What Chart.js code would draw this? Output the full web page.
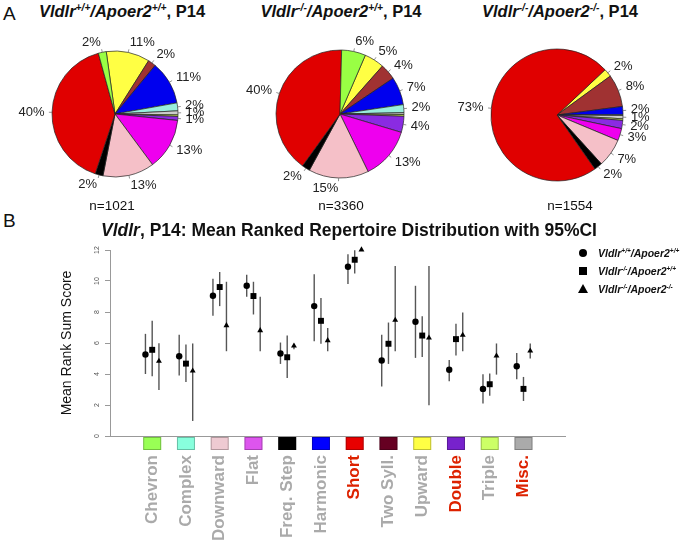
<!DOCTYPE html>
<html>
<head>
<meta charset="utf-8">
<script src="https://cdn.jsdelivr.net/npm/chart.js@4.4.0/dist/chart.umd.min.js"></script>
<style>
  html, body { margin: 0; padding: 0; background: #fff; }
  body { width: 685px; height: 542px; position: relative; overflow: hidden;
         font-family: "Liberation Sans", Arial, sans-serif; color: #111; }
  canvas { position: absolute; }
  .t { position: absolute; white-space: nowrap; line-height: 1; }
  .c { transform: translateX(-50%); }
  .pt { font-size: 16.5px; font-weight: bold; }
  .leg { font-size: 10.5px; font-weight: bold; font-style: italic; left: 598px; }
  sup { font-size: 0.62em; vertical-align: 0; position: relative; top: -0.6em; }
  .mk { position: absolute; background: #000; }
</style>
</head>
<body>
<div class="t" style="left:3px;top:4px;font-size:19px">A</div>
<div class="t" style="left:3px;top:211px;font-size:19px">B</div>

<div class="t c pt" style="left:122px;top:3px"><i>Vldlr<sup>+/+</sup>/Apoer2<sup>+/+</sup></i>, P14</div>
<div class="t c pt" style="left:341px;top:3px"><i>Vldlr<sup>-/-</sup>/Apoer2<sup>+/+</sup></i>, P14</div>
<div class="t c pt" style="left:560px;top:3px"><i>Vldlr<sup>-/-</sup>/Apoer2<sup>-/-</sup></i>, P14</div>

<canvas id="pie1" width="230" height="180" style="left:0px;top:24px"></canvas>
<canvas id="pie2" width="220" height="180" style="left:230px;top:24px"></canvas>
<canvas id="pie3" width="210" height="180" style="left:452px;top:25px"></canvas>

<div class="t c" style="left:112px;top:198.5px;font-size:13.5px">n=1021</div>
<div class="t c" style="left:341px;top:198.5px;font-size:13.5px">n=3360</div>
<div class="t c" style="left:570px;top:198.5px;font-size:13.5px">n=1554</div>

<div class="t c" style="left:349px;top:222px;font-size:17.5px;font-weight:bold"><i>Vldlr</i>, P14: Mean Ranked Repertoire Distribution with 95%CI</div>

<canvas id="ranks" width="570" height="330" style="left:0px;top:240px"></canvas>

<div class="mk" style="left:579px;top:249px;width:8px;height:8px;border-radius:50%"></div>
<div class="t leg" style="top:248px"><i>Vldlr<sup>+/+</sup>/Apoer2<sup>+/+</sup></i></div>
<div class="mk" style="left:579px;top:267px;width:8px;height:8px"></div>
<div class="t leg" style="top:266px"><i>Vldlr<sup>-/-</sup>/Apoer2<sup>+/+</sup></i></div>
<div class="mk" style="left:578px;top:284px;width:0;height:0;background:none;border-left:5px solid transparent;border-right:5px solid transparent;border-bottom:9px solid #000"></div>
<div class="t leg" style="top:284px"><i>Vldlr<sup>-/-</sup>/Apoer2<sup>-/-</sup></i></div>

<script>
// categories (same order as the x axis of panel B)
const cats = ['Chevron', 'Complex', 'Downward', 'Flat', 'Freq. Step', 'Harmonic',
              'Short', 'Two Syll.', 'Upward', 'Double', 'Triple', 'Misc.'];
const redCats = ['Short', 'Double', 'Misc.'];

// pie shares in percent, by category
const pieWT  = [2, 2, 13, 13, 2, 11, 40, 2, 11, 1, 0.4, 1];
const pieVKO = [6, 2, 15, 13, 2, 7, 40, 4, 5, 4, 0.45, 0.45];
const pieDKO = [0, 0.2, 7, 3, 2, 2, 73, 8, 2, 2, 0.4, 0.8];
// order the slices run clockwise
const pieOrder = [8, 7, 5, 1, 11, 10, 9, 3, 2, 4, 6, 0];

// mean rank sum score with 95% CI, by category
const wtMean = [5.26, 5.15, 9.05, 9.69, 5.32, 8.38, 10.92, 4.87, 7.37, 4.27, 3.04, 4.50];
const wtLo   = [4.00, 3.90, 7.76, 8.98, 4.65, 6.12, 9.80, 3.19, 5.04, 3.53, 2.09, 3.66];
const wtHi   = [6.59, 6.53, 10.15, 10.40, 6.03, 10.43, 11.72, 6.53, 9.69, 4.91, 3.99, 5.36];

const vkoMean = [5.56, 4.67, 9.61, 9.03, 5.08, 7.43, 11.37, 5.95, 6.48, 6.25, 3.34, 3.04];
const vkoLo   = [3.86, 3.49, 8.38, 7.84, 3.75, 5.95, 10.49, 4.65, 5.10, 5.19, 2.59, 2.26];
const vkoHi   = [7.43, 5.90, 10.58, 9.95, 6.48, 8.90, 11.98, 7.32, 7.73, 7.24, 4.03, 3.81];

const dkoMean = [4.83, 4.20, 7.13, 6.81, 5.82, 6.16, 12.02, 7.48, 6.33, 6.51, 5.17, 5.49];
const dkoLo   = [2.97, 0.97, 5.47, 5.47, 5.60, 5.47, 11.95, 5.47, 1.98, 5.47, 3.96, 5.00];
const dkoHi   = [5.99, 5.97, 9.95, 8.98, 5.95, 6.96, 12.05, 10.97, 10.97, 7.97, 5.97, 5.97];

const yTicks = [0, 2, 4, 6, 8, 10, 12];

const sliceColors = ['#99ff44', '#99eedd', '#f5c0c8', '#ee00ee', '#000000', '#0000ee',
                     '#e00000', '#a03232', '#ffff44', '#8a2be2', '#ccee55', '#cccccc'];
const boxColors = ['#99ff55', '#88ffdd', '#eecad2', '#dd55ee', '#000000', '#0000ff',
                   '#e80000', '#660022', '#ffff44', '#7722cc', '#ccff66', '#aaaaaa'];

Chart.defaults.font.family = '"Liberation Sans", Arial, sans-serif';
Chart.defaults.animation = false;

// R style pie labels: short tick just outside the rim, text a bit further out
const pieLabels = {
  id: 'pieLabels',
  afterDatasetsDraw(chart) {
    const ctx = chart.ctx;
    const values = chart.data.datasets[0].data;
    ctx.save();
    ctx.font = '13px "Liberation Sans", Arial, sans-serif';
    ctx.textBaseline = 'middle';
    chart.getDatasetMeta(0).data.forEach((arc, i) => {
      const pct = Math.round(values[i]);
      if (pct < 1) return;
      const p = arc.getProps(['x', 'y', 'startAngle', 'endAngle', 'outerRadius'], true);
      const mid = (p.startAngle + p.endAngle) / 2;
      const cx = Math.cos(mid), cy = Math.sin(mid), r = p.outerRadius;
      ctx.strokeStyle = '#777';
      ctx.lineWidth = 0.8;
      ctx.beginPath();
      ctx.moveTo(p.x + cx * r, p.y + cy * r);
      ctx.lineTo(p.x + cx * r * 1.05, p.y + cy * r * 1.05);
      ctx.stroke();
      ctx.fillStyle = '#222';
      ctx.textAlign = cx < 0 ? 'right' : 'left';
      ctx.fillText(pct + '%', p.x + cx * r * 1.12, p.y + cy * r * 1.16);
    });
    ctx.restore();
  }
};

function makePie(id, values, rotation, radius) {
  new Chart(document.getElementById(id), {
    type: 'pie',
    data: {
      labels: pieOrder.map(i => cats[i]),
      datasets: [{
        data: pieOrder.map(i => values[i]),
        backgroundColor: pieOrder.map(i => sliceColors[i]),
        borderColor: '#222',
        borderWidth: 0.7
      }]
    },
    options: {
      responsive: false,
      rotation: rotation,
      radius: radius,
      plugins: { legend: { display: false }, tooltip: { enabled: false } }
    },
    plugins: [pieLabels]
  });
}

makePie('pie1', pieWT, -8, 63);
makePie('pie2', pieVKO, 23.3, 64);
makePie('pie3', pieDKO, 46.7, 66);

// coloured category boxes under the x axis
const catBoxes = {
  id: 'catBoxes',
  afterDraw(chart) {
    const ctx = chart.ctx, x = chart.scales.x, bottom = chart.chartArea.bottom;
    ctx.save();
    boxColors.forEach((c, i) => {
      const px = x.getPixelForValue(i);
      ctx.fillStyle = c;
      ctx.fillRect(px - 9, bottom + 1, 18, 13);
      ctx.strokeStyle = 'rgba(0,0,0,0.25)';
      ctx.lineWidth = 1;
      ctx.strokeRect(px - 9 + 0.5, bottom + 1.5, 17, 12);
    });
    ctx.restore();
  }
};

const series = [
  { mean: wtMean, lo: wtLo, hi: wtHi, style: 'circle', off: -0.2, r: 3.2 },
  { mean: vkoMean, lo: vkoLo, hi: vkoHi, style: 'rect', off: 0, r: 4.2 },
  { mean: dkoMean, lo: dkoLo, hi: dkoHi, style: 'triangle', off: 0.2, r: 3.4 }
];

const datasets = series.map(s => ({
  type: 'scatter',
  data: s.mean.map((m, i) => ({ x: i + s.off, y: m })),
  pointStyle: s.style,
  pointRadius: s.r,
  backgroundColor: '#000',
  borderWidth: 0,
  clip: false,
  order: 0
}));
datasets.push({
  type: 'bar',
  data: series.flatMap(s => s.lo.map((l, i) => ({ x: i + s.off, y: [l, s.hi[i]] }))),
  backgroundColor: '#555',
  grouped: false,
  maxBarThickness: 1.4,
  clip: false,
  order: 1
});

new Chart(document.getElementById('ranks'), {
  type: 'scatter',
  data: { datasets: datasets },
  options: {
    responsive: false,
    layout: { padding: { left: 58.6, top: 10, right: 5, bottom: 0 } },
    plugins: { legend: { display: false }, tooltip: { enabled: false } },
    scales: {
      x: {
        type: 'linear',
        min: -1.25,
        max: 12.23,
        offset: false,
        afterBuildTicks: s => { s.ticks = cats.map((c, i) => ({ value: i })); },
        afterFit: s => { s.height = 134; },
        ticks: {
          autoSkip: false,
          minRotation: 90,
          maxRotation: 90,
          padding: 19,
          font: { size: 17, weight: 'bold' },
          color: c => redCats.includes(cats[c.index]) ? '#dd2200' : '#aaaaaa',
          callback: v => cats[v]
        },
        grid: { display: false, drawTicks: false, offset: false },
        border: { display: true, color: '#999', width: 1 }
      },
      y: {
        min: 0,
        max: 12,
        afterBuildTicks: s => { s.ticks = yTicks.map(v => ({ value: v })); },
        afterFit: s => { s.width = 51.4; },
        ticks: {
          minRotation: 90,
          maxRotation: 90,
          crossAlign: 'center',
          padding: 4,
          font: { size: 7 },
          color: '#555'
        },
        grid: { display: true, drawOnChartArea: false, drawTicks: true, tickLength: 5, color: '#999' },
        border: { display: true, color: '#999', width: 1 },
        title: {
          display: true,
          text: 'Mean Rank Sum Score',
          font: { size: 14 },
          color: '#111',
          padding: { top: 0, bottom: 17.2 }
        }
      }
    }
  },
  plugins: [catBoxes]
});
</script>
</body>
</html>
